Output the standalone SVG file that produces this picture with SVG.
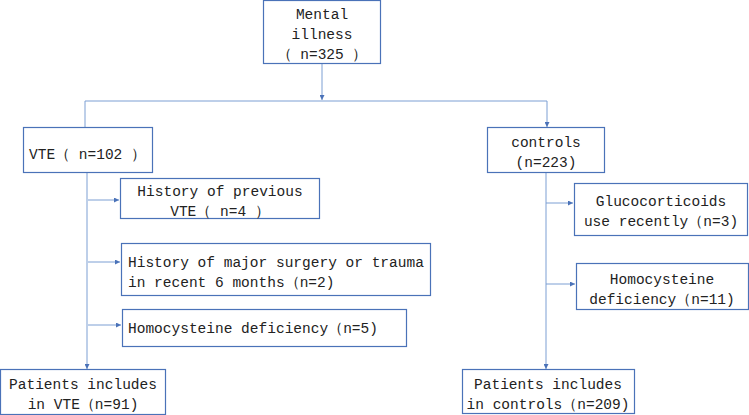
<svg xmlns="http://www.w3.org/2000/svg" width="749" height="415" viewBox="0 0 749 415">
<defs>
<style>
.b{fill:#fff;stroke:#4a72b8;stroke-width:1.2}
.c{fill:none;stroke:#7d9fd3;stroke-width:1}
text{font-family:"Liberation Mono","DejaVu Sans Mono",monospace;font-size:14.5px;fill:#222}
.m{text-anchor:middle}
</style>
<marker id="a" viewBox="0 0 6 6" refX="6" refY="3" markerWidth="5" markerHeight="5" orient="auto"><path d="M0,0L6,3L0,6z" fill="#4a72b8"/></marker>
</defs>
<g id="connectors">
<path class="c" d="M322,63V100" marker-end="url(#a)"/>
<path class="c" d="M85,127V101H547V127" marker-end="url(#a)"/>
<path class="c" d="M87,172V369" marker-end="url(#a)"/>
<path class="c" d="M88,200H119" marker-end="url(#a)"/>
<path class="c" d="M88,262H120" marker-end="url(#a)"/>
<path class="c" d="M88,325H121" marker-end="url(#a)"/>
<path class="c" d="M546,172V369" marker-end="url(#a)"/>
<path class="c" d="M546,203H573" marker-end="url(#a)"/>
<path class="c" d="M546,284H575" marker-end="url(#a)"/>
</g>
<g id="n1"><rect class="b" x="263.5" y="0.5" width="117" height="63"/>
<text class="m" x="322" y="19">Mental</text><text class="m" x="322" y="39">illness</text><text class="m" x="322" y="59">（ n=325 ）</text></g>
<g id="n2"><rect class="b" x="23.5" y="127.5" width="129" height="45"/><text x="29" y="159">VTE（ n=102 ）</text></g>
<g id="n3"><rect class="b" x="487.5" y="127.5" width="117" height="45"/>
<text class="m" x="546" y="147">controls</text><text class="m" x="546" y="167">(n=223)</text></g>
<g id="n4"><rect class="b" x="120.5" y="178.5" width="199" height="40"/>
<text class="m" x="220" y="196">History of previous</text><text class="m" x="220" y="216">VTE（ n=4 ）</text></g>
<g id="n5"><rect class="b" x="121.5" y="243.5" width="309" height="52"/>
<text x="128" y="267">History of major surgery or trauma</text><text x="128" y="287">in recent 6 months（n=2)</text></g>
<g id="n6"><rect class="b" x="122.5" y="309.5" width="284" height="37"/>
<text x="128" y="333">Homocysteine deficiency（n=5)</text></g>
<g id="n7"><rect class="b" x="0.5" y="369.5" width="165" height="45"/>
<text class="m" x="83" y="389">Patients includes</text><text class="m" x="83" y="409">in VTE（n=91)</text></g>
<g id="n8"><rect class="b" x="574.5" y="183.5" width="173" height="52"/>
<text class="m" x="661" y="206">Glucocorticoids</text><text class="m" x="661" y="226">use recently（n=3)</text></g>
<g id="n9"><rect class="b" x="576.5" y="263.5" width="172" height="46"/>
<text class="m" x="662" y="284">Homocysteine</text><text class="m" x="662" y="304">deficiency（n=11)</text></g>
<g id="n10"><rect class="b" x="462.5" y="369.5" width="172" height="44"/>
<text class="m" x="548" y="389">Patients includes</text><text class="m" x="548" y="409">in controls（n=209)</text></g>
</svg>
